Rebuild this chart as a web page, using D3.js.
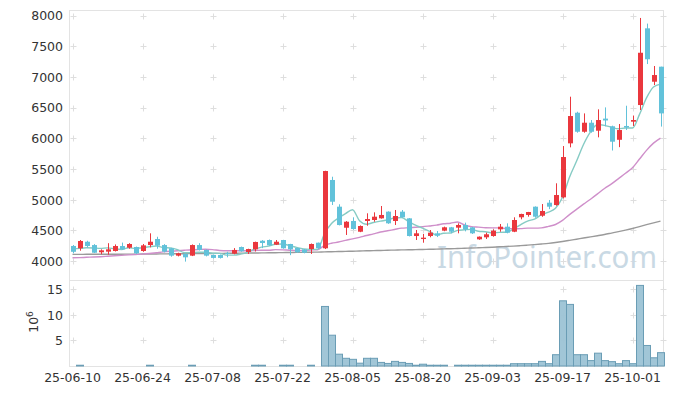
<!DOCTYPE html>
<html><head><meta charset="utf-8">
<script src="https://cdn.jsdelivr.net/npm/d3@7"></script>
<style>
html,body{margin:0;padding:0;background:#fff;}
svg{display:block;}
</style></head>
<body>
<svg id="chart" width="673" height="396"></svg>
<script>
const dates = [
"25-06-10","25-06-11","25-06-12","25-06-13","25-06-16","25-06-17","25-06-18","25-06-19","25-06-20","25-06-23",
"25-06-24","25-06-25","25-06-26","25-06-27","25-06-30","25-07-01","25-07-02","25-07-03","25-07-04","25-07-07",
"25-07-08","25-07-09","25-07-10","25-07-11","25-07-14","25-07-15","25-07-16","25-07-17","25-07-18","25-07-21",
"25-07-22","25-07-23","25-07-24","25-07-25","25-07-28","25-07-29","25-07-30","25-07-31","25-08-01","25-08-04",
"25-08-05","25-08-06","25-08-07","25-08-08","25-08-11","25-08-12","25-08-13","25-08-14","25-08-18","25-08-19",
"25-08-20","25-08-21","25-08-22","25-08-25","25-08-26","25-08-27","25-08-28","25-08-29","25-09-01","25-09-02",
"25-09-03","25-09-04","25-09-05","25-09-08","25-09-09","25-09-10","25-09-11","25-09-12","25-09-15","25-09-16",
"25-09-17","25-09-18","25-09-19","25-09-22","25-09-23","25-09-24","25-09-25","25-09-26","25-09-29","25-09-30",
"25-10-01","25-10-02","25-10-10","25-10-13","25-10-14"];

const open = [
4245,4207,4314,4260,4142,4152,4163,4244,4217,4228,
4163,4260,4358,4260,4207,4087,4114,4087,4260,4180,
4098,4098,4130,4120,4228,4147,4190,4330,4342,4266,
4342,4277,4212,4190,4195,4298,4207,5320,4885,4542,
4652,4477,4652,4668,4695,4804,4652,4804,4695,4407,
4358,4407,4451,4494,4549,4543,4587,4549,4353,4386,
4407,4516,4559,4477,4712,4750,4885,4738,4950,4912,
5037,5917,6416,6106,6253,6123,6320,6195,5975,6200,
6270,6541,7791,6921,7166];

const high = [
4260,4342,4330,4275,4190,4290,4270,4300,4290,4235,
4277,4451,4395,4275,4215,4135,4125,4270,4290,4190,
4105,4105,4150,4210,4235,4200,4315,4340,4350,4342,
4345,4280,4215,4195,4285,4300,5470,5373,4924,4650,
4712,4580,4777,4793,4896,4810,4831,4831,4700,4505,
4440,4505,4489,4560,4555,4614,4625,4555,4400,4462,
4516,4603,4614,4712,4770,4800,4890,4928,4994,5266,
5873,6677,6432,6405,6297,6471,6503,6205,6232,6530,
6370,7960,7868,7177,7166];

const low = [
4125,4168,4220,4130,4110,4103,4155,4180,4200,4115,
4150,4223,4200,4140,4070,4075,3990,4080,4170,4075,
4040,4040,4060,4110,4150,4115,4155,4210,4250,4260,
4200,4095,4135,4125,4115,4200,4195,4912,4580,4424,
4510,4470,4575,4640,4690,4605,4587,4705,4400,4342,
4298,4386,4390,4485,4451,4451,4483,4440,4345,4358,
4396,4477,4451,4470,4679,4722,4705,4720,4845,4900,
5020,5852,6090,6090,6090,6015,6195,5800,5855,6134,
6200,6460,7209,6867,6190];

const close = [
4150,4326,4244,4135,4174,4190,4244,4190,4277,4125,
4255,4314,4250,4152,4087,4125,4060,4260,4180,4087,
4050,4050,4115,4180,4158,4195,4310,4293,4255,4314,
4207,4190,4142,4135,4277,4207,5466,4966,4586,4640,
4521,4570,4684,4722,4750,4614,4733,4712,4407,4451,
4380,4462,4413,4549,4477,4587,4516,4451,4396,4435,
4494,4559,4461,4668,4766,4798,4722,4815,4885,5075,
5694,6362,6106,6253,6106,6297,6290,5944,6134,6175,
6297,7393,7287,7030,6405];

// volume in millions (10^6)
const volume = [
0,0.15,0,0,0,0,0,0,0,0,
0,0.15,0,0,0,0,0,0.15,0,0,
0,0,0,0,0,0,0.15,0.15,0,0,
0.15,0.15,0,0,0.15,0,11.6,6.0,2.3,1.5,
1.3,0.55,1.5,1.5,0.7,0.5,0.9,0.7,0.5,0.15,
0.35,0.15,0.15,0.15,0,0.15,0.15,0.15,0.15,0.15,
0.15,0.15,0.15,0.45,0.45,0.45,0.45,0.9,0.45,2.2,
12.7,12.0,2.2,2.2,1.05,2.5,1.05,0.85,0.45,1.05,
0.45,15.7,4.0,1.6,2.6];

const ma5 = [
4190,4205,4215,4212,4206,4214,4197,4187,4215,4205,
4218,4232,4244,4219,4212,4186,4135,4137,4142,4142,
4127,4125,4096,4096,4111,4140,4192,4227,4242,4273,
4276,4252,4222,4198,4190,4190,4445,4610,4700,4773,
4836,4657,4600,4627,4649,4668,4701,4706,4643,4583,
4537,4482,4423,4451,4456,4498,4508,4516,4485,4477,
4458,4467,4469,4523,4590,4650,4683,4754,4797,4859,
5038,5366,5624,5898,6104,6225,6210,6178,6154,6168,
6168,6389,6657,6836,6882];

const ma20 = [
4052,4055,4060,4065,4070,4077,4085,4092,4100,4106,
4112,4122,4135,4148,4158,4166,4175,4183,4188,4191,
4186,4172,4166,4168,4167,4168,4171,4176,4175,4185,
4182,4176,4171,4170,4179,4183,4254,4289,4309,4337,
4360,4386,4415,4442,4472,4492,4514,4535,4542,4549,
4558,4571,4585,4606,4616,4635,4587,4561,4552,4542,
4540,4540,4528,4526,4527,4536,4535,4540,4564,4595,
4661,4756,4841,4926,5007,5093,5182,5256,5343,5430,
5520,5662,5803,5921,6003];

const ma60 = [
4108,4108,4109,4109,4110,4110,4111,4111,4112,4112,
4113,4114,4115,4116,4117,4118,4119,4120,4121,4122,
4123,4124,4126,4127,4128,4130,4131,4132,4134,4135,
4137,4138,4140,4141,4143,4145,4148,4151,4154,4157,
4160,4163,4166,4169,4172,4175,4178,4181,4183,4185,
4188,4191,4194,4197,4200,4203,4207,4211,4215,4220,
4225,4231,4237,4243,4250,4258,4267,4277,4288,4302,
4318,4336,4355,4374,4393,4412,4432,4455,4478,4503,
4530,4560,4592,4622,4650];

const priceTicks = [4000,4500,5000,5500,6000,6500,7000,7500,8000];
const volTicks = [5,10,15];
const tickDates = ["25-06-10","25-06-24","25-07-08","25-07-22","25-08-05","25-08-20","25-09-03","25-09-17","25-10-01"];

const svg = d3.select("#chart");
const L = 69, R = 664, T = 10, B = 366, SEP = 280;
const FONT = "DejaVu Sans, sans-serif";

const x = d3.scaleBand().domain(dates).range([L, R]).padding(0);
const bw = x.bandwidth();
const cx = d => x(d) + bw / 2;
const y = d3.scaleLinear().domain([4000, 8000]).range([261, 15.5]);
const yv = d3.scaleLinear().domain([0, 15]).range([B, 289]);

// frame
const grid = svg.append("g").attr("stroke", "#e3e3e3").attr("fill", "none");
grid.append("rect").attr("x", L + 0.5).attr("y", T + 0.5).attr("width", R - L - 1).attr("height", B - T);
grid.append("line").attr("x1", L).attr("x2", R).attr("y1", SEP + 0.5).attr("y2", SEP + 0.5);

// crosses at grid intersections
const crossG = svg.append("g").attr("stroke", "#dedede").attr("stroke-width", 1);
function cross(px, py) {
  crossG.append("line").attr("x1", px - 3).attr("x2", px + 3).attr("y1", py).attr("y2", py);
  crossG.append("line").attr("x1", px).attr("x2", px).attr("y1", py - 3).attr("y2", py + 3);
}
tickDates.forEach(d => {
  priceTicks.forEach(p => cross(Math.round(cx(d)) + 0.5, Math.round(y(p)) + 0.5));
  volTicks.forEach(v => cross(Math.round(cx(d)) + 0.5, Math.round(yv(v)) + 0.5));
});
priceTicks.forEach(p => cross(R - 0.5, Math.round(y(p)) + 0.5));
volTicks.forEach(v => cross(R - 0.5, Math.round(yv(v)) + 0.5));

// watermark
svg.append("text").attr("x", 437).attr("y", 268)
  .attr("font-family", "Noto Sans, sans-serif").attr("font-size", 31)
  .attr("textLength", 220).attr("lengthAdjust", "spacingAndGlyphs")
  .attr("fill", "#c9d9e4").text("InfoPointer.com");

// clip for price panel
svg.append("clipPath").attr("id", "pclip").append("rect")
  .attr("x", L).attr("y", T).attr("width", R - L).attr("height", SEP - T);

const pg = svg.append("g").attr("clip-path", "url(#pclip)");

// moving averages
const mkLine = arr => d3.line().x((v, i) => cx(dates[i])).y(v => y(v)).curve(d3.curveMonotoneX)(arr);
pg.append("path").attr("d", mkLine(ma60)).attr("fill", "none").attr("stroke", "#9a9a9a").attr("stroke-width", 1.4);
pg.append("path").attr("d", mkLine(ma20)).attr("fill", "none").attr("stroke", "#cf8fca").attr("stroke-width", 1.4);
pg.append("path").attr("d", mkLine(ma5)).attr("fill", "none").attr("stroke", "#86cbc4").attr("stroke-width", 1.4);

// candles
const RED = "#ea373d", BLUE = "#62c2da";
const candles = pg.selectAll("g.c").data(dates).join("g").attr("class", "c");
candles.append("line")
  .attr("x1", d => Math.round(cx(d)) + 0.5).attr("x2", d => Math.round(cx(d)) + 0.5)
  .attr("y1", (d, i) => y(high[i])).attr("y2", (d, i) => y(low[i]))
  .attr("stroke", (d, i) => close[i] >= open[i] ? RED : BLUE).attr("stroke-width", 1);
candles.append("rect")
  .attr("x", d => Math.round(cx(d)) + 0.5 - 2.5).attr("width", 5)
  .attr("y", (d, i) => y(Math.max(open[i], close[i])))
  .attr("height", (d, i) => Math.max(1, Math.abs(y(open[i]) - y(close[i]))))
  .attr("fill", (d, i) => close[i] >= open[i] ? RED : BLUE);

// volume bars
svg.append("g").selectAll("rect").data(dates.filter((d, i) => volume[i] > 0)).join("rect")
  .attr("x", d => x(d) + 0.5).attr("width", bw)
  .attr("y", d => yv(volume[dates.indexOf(d)]))
  .attr("height", d => B - yv(volume[dates.indexOf(d)]))
  .attr("fill", "#9cc3d5").attr("fill-opacity", 0.95)
  .attr("stroke", "#6a9db5").attr("stroke-width", 1);

// axes
const axL = d3.axisLeft(y).tickValues(priceTicks).tickSize(0).tickPadding(6).tickFormat(d3.format("d"));
const gy = svg.append("g").attr("transform", `translate(${L},0)`).call(axL);
const axV = d3.axisLeft(yv).tickValues(volTicks).tickSize(0).tickPadding(6);
const gv = svg.append("g").attr("transform", `translate(${L},0)`).call(axV);
const axB = d3.axisBottom(x).tickValues(tickDates).tickSize(0).tickPadding(7);
const gx = svg.append("g").attr("transform", `translate(0,${B})`).call(axB);
[gy, gv, gx].forEach(g => {
  g.select(".domain").remove();
  g.selectAll("text").attr("font-family", FONT).attr("font-size", 12.5).attr("fill", "#333");
});
gy.selectAll("text").attr("dy", "0.35em");
gv.selectAll("text").attr("dy", "0.35em");

// 10^6 label
const lab = svg.append("text").attr("transform", "translate(38,322) rotate(-90)")
  .attr("text-anchor", "middle").attr("font-family", FONT).attr("font-size", 12.5).attr("fill", "#333");
lab.append("tspan").text("10");
lab.append("tspan").attr("dy", -5).attr("font-size", 9).text("6");
</script>
</body></html>
